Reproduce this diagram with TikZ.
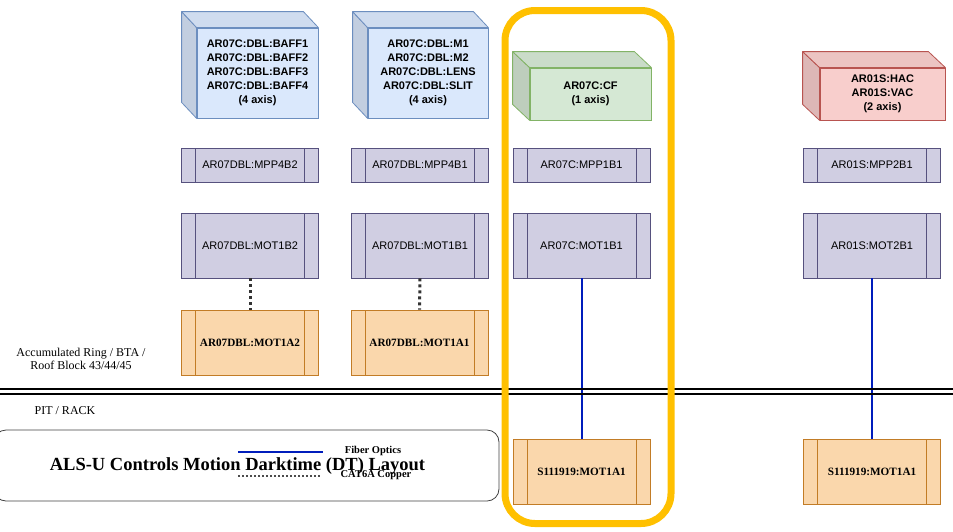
\documentclass[tikz,border=0pt]{standalone}
\usepackage{fontspec}
\setmainfont{Liberation Serif}
\setsansfont{Liberation Sans}
\usetikzlibrary{calc}

\definecolor{bluef}{HTML}{DAE8FC}\definecolor{blued}{HTML}{6C8EBF}
\definecolor{greenf}{HTML}{D5E8D4}\definecolor{greend}{HTML}{82B366}
\definecolor{redf}{HTML}{F8CECC}\definecolor{redd}{HTML}{B85450}
\definecolor{purf}{HTML}{D0CEE2}\definecolor{purd}{HTML}{56517E}
\definecolor{oraf}{HTML}{FAD7AC}\definecolor{orad}{HTML}{B46504}
\definecolor{fiber}{HTML}{001DBC}
\definecolor{hilite}{HTML}{FFC000}

\tikzset{
  cubefront/.style={draw, line width=0.8pt, inner sep=0pt, align=center,
    font=\sffamily\bfseries\fontsize{11}{14}\selectfont},
  procbox/.style={rectangle, draw=#1, line width=0.8pt, minimum width=137pt,
    inner sep=0pt, align=center,
    path picture={
      \draw[#1, line width=0.8pt]
        ([xshift=14pt]path picture bounding box.north west) --
        ([xshift=14pt]path picture bounding box.south west)
        ([xshift=-14pt]path picture bounding box.north east) --
        ([xshift=-14pt]path picture bounding box.south east);
    }},
  ppbox/.style={procbox=purd, fill=purf, minimum height=34pt,
    font=\sffamily\fontsize{11}{13}\selectfont},
  motbox/.style={procbox=purd, fill=purf, minimum height=65pt,
    font=\sffamily\fontsize{11}{13}\selectfont},
  drvbox/.style={procbox=orad!80!oraf, fill=oraf, minimum height=65pt,
    font=\rmfamily\bfseries\fontsize{11.2}{13}\selectfont},
  fiberline/.style={fiber, line width=2pt},
  copperline/.style={black!80, line width=3pt, dash pattern=on 3pt off 3pt},
  legcopper/.style={black!70, line width=2pt, dash pattern=on 2pt off 2pt},
  zonetext/.style={font=\rmfamily\fontsize{12}{13}\selectfont, align=center},
  legtext/.style={font=\rmfamily\bfseries\fontsize{10.5}{12}\selectfont},
}

% cube side and top faces drawn beside the front node
\newcommand{\cubefaces}[5]{% node, dx, dy, fill, stroke
  \filldraw[fill=#4!89!black, draw=#5, line width=0.8pt, line join=round]
    (#1.north west) -- ++(-#2,-#3) -- ($(#1.south west)+(-#2,-#3)$) -- (#1.south west) -- cycle;
  \filldraw[fill=#4!95!black, draw=#5, line width=0.8pt, line join=round]
    (#1.north west) -- ++(-#2,-#3) -- ($(#1.north east)+(-#2,-#3)$) -- (#1.north east) -- cycle;
}

\begin{document}
\begin{tikzpicture}[x=1pt,y=-1pt]
\useasboundingbox (0,0) rectangle (953,531);

% ---- devices (cubes) ----
\node[cubefront, fill=bluef, draw=blued, minimum width=121pt, minimum height=90pt] (dev1) at (257.5,73)
  {AR07C:DBL:BAFF1\\AR07C:DBL:BAFF2\\AR07C:DBL:BAFF3\\AR07C:DBL:BAFF4\\(4 axis)};
\cubefaces{dev1}{15}{16}{bluef}{blued}
\node[cubefront, fill=bluef, draw=blued, minimum width=120pt, minimum height=90pt] (dev2) at (428,73)
  {AR07C:DBL:M1\\AR07C:DBL:M2\\AR07C:DBL:LENS\\AR07C:DBL:SLIT\\(4 axis)};
\cubefaces{dev2}{15}{16}{bluef}{blued}
\node[cubefront, fill=greenf, draw=greend, minimum width=121pt, minimum height=52pt] (dev3) at (590.5,94)
  {AR07C:CF\\(1 axis)};
\cubefaces{dev3}{17}{16}{greenf}{greend}
\node[cubefront, fill=redf, draw=redd, minimum width=125pt, minimum height=52pt] (dev4) at (882.5,94)
  {AR01S:HAC\\AR01S:VAC\\(2 axis)};
\cubefaces{dev4}{17}{16}{redf}{redd}

% ---- patch panels ----
\node[ppbox] (pp1) at (250,165) {AR07DBL:MPP4B2};
\node[ppbox] (pp2) at (420,165) {AR07DBL:MPP4B1};
\node[ppbox] (pp3) at (581.5,165) {AR07C:MPP1B1};
\node[ppbox] (pp4) at (872,165) {AR01S:MPP2B1};

% ---- motion boxes ----
\node[motbox] (mb1) at (250,245.5) {AR07DBL:MOT1B2};
\node[motbox] (mb2) at (420,245.5) {AR07DBL:MOT1B1};
\node[motbox] (mb3) at (581.5,245.5) {AR07C:MOT1B1};
\node[motbox] (mb4) at (872,245.5) {AR01S:MOT2B1};

% ---- drivers ----
\node[drvbox] (drv1) at (250,342.5) {AR07DBL:MOT1A2};
\node[drvbox] (drv2) at (419.5,342.5) {AR07DBL:MOT1A1};
\node[drvbox] (drv3) at (581.5,471.5) {S111919:MOT1A1};
\node[drvbox] (drv4) at (872,471.5) {S111919:MOT1A1};

% ---- links ----
\draw[copperline] (mb1.south) -- (drv1.north);
\draw[copperline] (mb2.south) -- (drv2.north);
\draw[fiberline] (mb3.south) -- (drv3.north);
\draw[fiberline] (mb4.south) -- (drv4.north);

% ---- zone boundary ----
\draw[black, line width=1.4pt] (0,389) -- (953,389);
\draw[black, line width=1.4pt] (0,394) -- (953,394);
\node[zonetext] (zoneup) at (81,359) {Accumulated Ring / BTA /\\Roof Block 43/44/45};
\node[zonetext] (zonedown) at (65,411) {PIT / RACK};

% ---- highlighted column ----
\draw[hilite, line width=7pt, rounded corners=30pt] (505,10.5) rectangle (671,523.5);

% ---- legend / title ----
\draw[black!75, line width=0.8pt, rounded corners=12pt] (-6,430) rectangle (499,501);
\node[font=\rmfamily\bfseries\fontsize{18.5}{21}\selectfont] (title) at (237.5,466) {ALS-U Controls Motion Darktime (DT) Layout};
\coordinate (lf1) at (238,452);
\coordinate (lf2) at (323,452);
\coordinate (lc1) at (238,476);
\coordinate (lc2) at (321,476);
\draw[fiberline] (lf1) -- (lf2);
\draw[legcopper] (lc1) -- (lc2);
\node[legtext] (fiberlbl) at (373,451) {Fiber Optics};
\node[legtext] (copperlbl) at (376,475) {CAT6A Copper};
\end{tikzpicture}
\end{document}
